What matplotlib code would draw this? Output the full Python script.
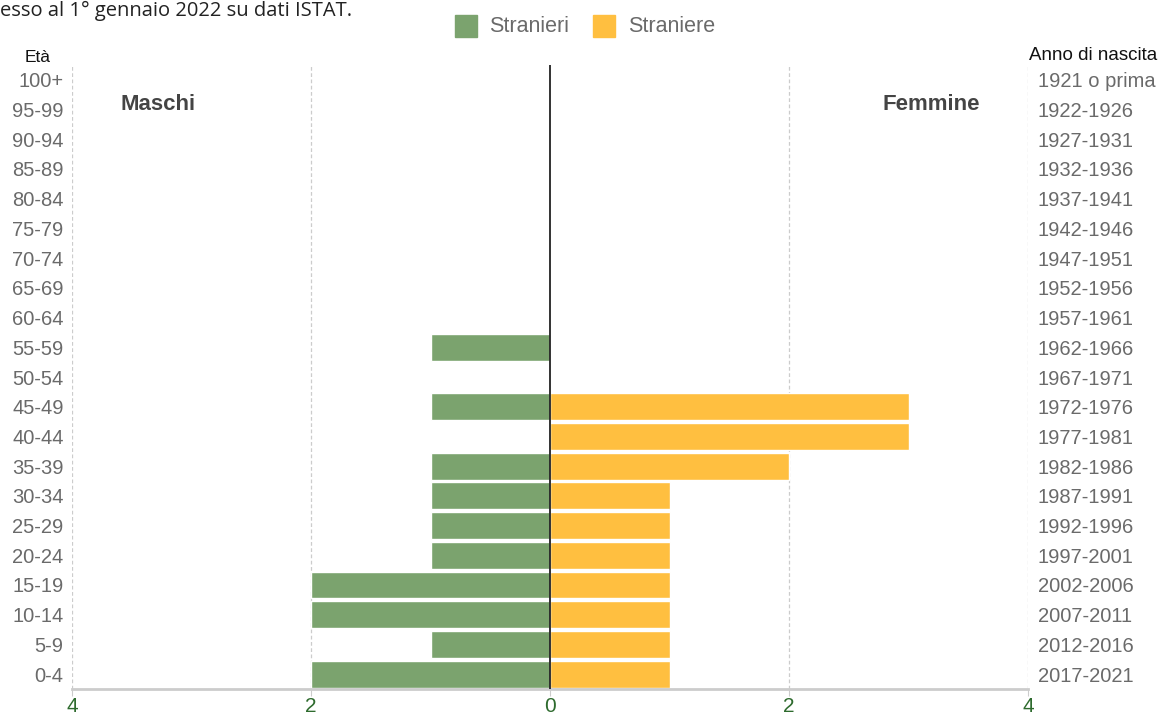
import matplotlib.pyplot as plt
from matplotlib.patches import Rectangle

plt.rcParams['font.family'] = ['Liberation Sans', 'DejaVu Sans']

# Age classes from youngest to oldest
eta = ["0-4", "5-9", "10-14", "15-19", "20-24", "25-29", "30-34", "35-39",
       "40-44", "45-49", "50-54", "55-59", "60-64", "65-69", "70-74",
       "75-79", "80-84", "85-89", "90-94", "95-99", "100+"]
anni = ["2017-2021", "2012-2016", "2007-2011", "2002-2006", "1997-2001",
        "1992-1996", "1987-1991", "1982-1986", "1977-1981", "1972-1976",
        "1967-1971", "1962-1966", "1957-1961", "1952-1956", "1947-1951",
        "1942-1946", "1937-1941", "1932-1936", "1927-1931", "1922-1926",
        "1921 o prima"]
stranieri = [2, 1, 2, 2, 1, 1, 1, 1, 0, 1, 0, 1, 0, 0, 0, 0, 0, 0, 0, 0, 0]
straniere = [1, 1, 1, 1, 1, 1, 1, 2, 3, 3, 0, 0, 0, 0, 0, 0, 0, 0, 0, 0, 0]

verde = '#7BA36E'
giallo = '#FFBF40'
grigio = '#6a6a6a'

fig = plt.figure(figsize=(11.69, 7.2), dpi=100)
ax = fig.add_axes([72 / 1169, 31 / 720, 956 / 1169, 624 / 720])

y = list(range(len(eta)))
ax.barh(y, [-v for v in stranieri], height=0.9, color=verde, edgecolor='white', linewidth=1)
ax.barh(y, straniere, height=0.9, color=giallo, edgecolor='white', linewidth=1)

ax.set_xlim(-4, 4)
ax.set_ylim(-0.5, 20.5)

# grid lines
for gx in [-2, 2, -4, 4]:
    ax.axvline(gx, color='#cccccc', lw=0.9, ls=(0, (3, 2)), zorder=0)
ax.axvline(0, color='#222222', lw=1.3, zorder=3)

for s in ax.spines.values():
    s.set_visible(False)
ax.spines['bottom'].set_visible(True)
ax.spines['bottom'].set_color('#cccccc')
ax.spines['bottom'].set_linewidth(2)

ax.set_xticks([-4, -2, 0, 2, 4])
ax.set_xticklabels(['4', '2', '0', '2', '4'])
ax.tick_params(axis='x', colors='#cccccc', labelcolor='#2e6b2e', labelsize=15, length=5, pad=1)

ax.set_yticks(y)
ax.set_yticklabels(eta)
ax.tick_params(axis='y', length=0, labelcolor=grigio, labelsize=14.5, pad=6)

ax2 = ax.twinx()
ax2.set_ylim(-0.5, 20.5)
ax2.set_yticks(y)
ax2.set_yticklabels(anni)
ax2.tick_params(axis='y', length=0, labelcolor=grigio, labelsize=14.5, pad=7)
for s in ax2.spines.values():
    s.set_visible(False)

# annotations
fig.text(120 / 1169, 1 - 105 / 720, 'Maschi', fontsize=16, fontweight='bold', color='#444444', va='center')
fig.text(980 / 1169, 1 - 105 / 720, 'Femmine', fontsize=16, fontweight='bold', color='#444444', va='center', ha='right')
fig.text(25 / 1169, 1 - 57 / 720, 'Età', fontsize=12.5, color='#111111', va='center')
fig.text(1029 / 1169, 1 - 55 / 720, 'Anno di nascita', fontsize=13.5, color='#111111', va='center')

# legend
fig.patches.append(Rectangle((455 / 1169, 1 - 37 / 720), 22 / 1169, 22 / 720,
                             transform=fig.transFigure, color=verde))
fig.text(489 / 1169, 1 - 26 / 720, 'Stranieri', fontsize=15.5, color=grigio, va='center')
fig.patches.append(Rectangle((593 / 1169, 1 - 37 / 720), 22 / 1169, 22 / 720,
                             transform=fig.transFigure, color=giallo))
fig.text(628 / 1169, 1 - 26 / 720, 'Straniere', fontsize=15.5, color=grigio, va='center')

# caption fragment at the top
fig.text(0, 1 - 1 / 720, 'esso al 1° gennaio 2022 su dati ISTAT.', fontsize=14.5,
         color='#222222', va='top', family=['Open Sans', 'DejaVu Sans'])

fig.savefig('out.png', dpi=100)
